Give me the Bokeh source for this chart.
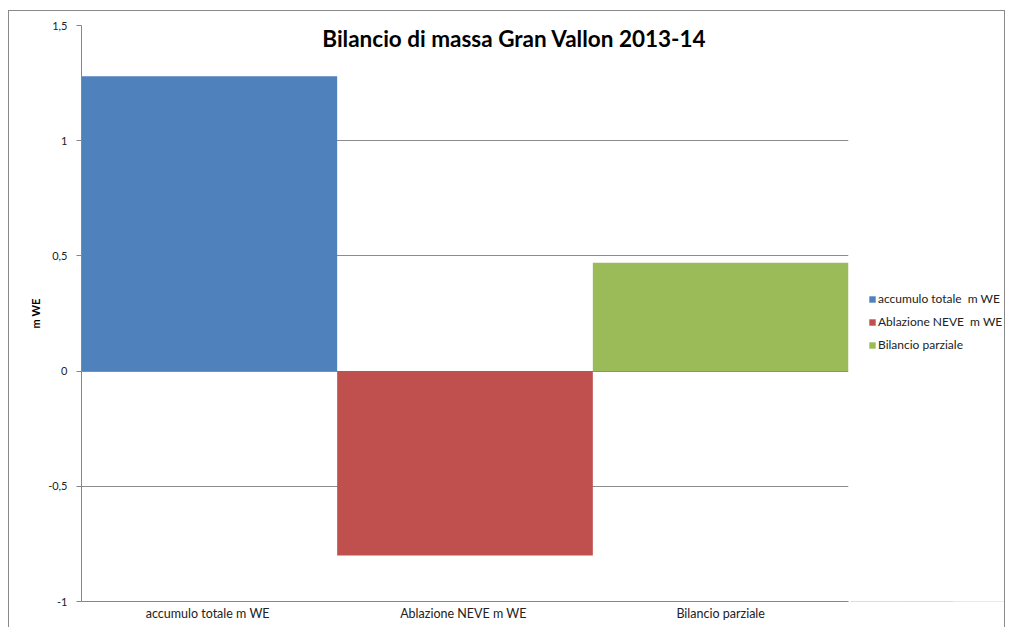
from bokeh.plotting import figure
from bokeh.models import ColumnDataSource, Label, FixedTicker, Legend, LegendItem, Range1d
from bokeh.layouts import row
from bokeh.embed import file_html
from bokeh.resources import INLINE

categories = ["accumulo totale  m WE", "Ablazione NEVE  m WE", "Bilancio parziale"]
values = [1.28, -0.80, 0.47]
colors = ["#4F81BD", "#C0504D", "#9BBB59"]
y_ticks = [-1, -0.5, 0, 0.5, 1, 1.5]
y_tick_labels = ["-1", "-0,5", "0", "0,5", "1", "1,5"]
title_text = "Bilancio di massa Gran Vallon 2013-14"
y_label = "m WE"

FONT = "Lato"

src = ColumnDataSource(dict(cat=categories, val=values, color=colors))

p = figure(x_range=categories, y_range=(-1, 1.5), width=841, height=616,
           output_backend="svg", toolbar_location=None,
           min_border_left=72, min_border_right=2, min_border_top=14, min_border_bottom=26)
p.outline_line_color = None
p.background_fill_color = "white"
p.border_fill_color = "white"

r = p.vbar(x="cat", top="val", bottom=0, width=1.0, color="color", line_color=None,
           source=src)

# axes
p.yaxis.ticker = FixedTicker(ticks=y_ticks)
p.yaxis.major_label_overrides = {t: l for t, l in zip(y_ticks, y_tick_labels)}
p.yaxis.axis_line_color = "#868686"
p.yaxis.major_tick_line_color = "#868686"
p.yaxis.major_tick_out = 5
p.yaxis.major_tick_in = 0
p.yaxis.minor_tick_line_color = None
p.yaxis.major_label_text_font = FONT
p.yaxis.major_label_text_font_size = "11px"
p.yaxis.major_label_text_color = "#222222"
p.yaxis.major_label_standoff = 9
p.yaxis.axis_label = y_label
p.yaxis.axis_label_text_font = FONT
p.yaxis.axis_label_text_font_size = "11px"
p.yaxis.axis_label_text_font_style = "bold"
p.yaxis.axis_label_text_color = "#000000"
p.yaxis.axis_label_standoff = 3

p.xaxis.axis_line_color = "#868686"
p.xaxis.major_tick_line_color = None
p.xaxis.minor_tick_line_color = None
p.xaxis.major_label_text_font = FONT
p.xaxis.major_label_text_font_size = "12.5px"
p.xaxis.major_label_text_color = "#222222"
p.xaxis.major_label_standoff = -2

p.xgrid.grid_line_color = None
p.ygrid.grid_line_color = "#8c8c8c"
p.ygrid.grid_line_width = 1

# title inside plot area
title = Label(x=1.693, y=1.4436, text=title_text, text_align="center",
              text_baseline="middle", text_font=FONT, text_font_size="22.5px",
              text_font_style="bold", text_color="#000000")
p.add_layout(title)

# legend panel: a separate narrow figure whose bars lie outside its view
q = figure(x_range=categories, y_range=Range1d(5, 6), width=154, height=616,
           output_backend="svg", toolbar_location=None,
           x_axis_location=None, y_axis_location=None,
           min_border_left=0, min_border_right=0, min_border_top=0, min_border_bottom=0)
q.grid.visible = False
q.outline_line_color = None
q.background_fill_color = "white"
q.border_fill_color = "white"
rq = q.vbar(x="cat", top="val", bottom=0, width=1.0, color="color", line_color=None,
            source=src)

legend = Legend(items=[LegendItem(label=dict(field="cat"), renderers=[rq])],
                location=(18, 249))
q.add_layout(legend)
legend.border_line_color = None
legend.background_fill_alpha = 0
legend.glyph_width = 8
legend.glyph_height = 8
legend.label_height = 12
legend.spacing = 8
legend.padding = 0
legend.margin = 0
legend.label_standoff = 2
legend.label_text_font = FONT
legend.label_text_font_size = "12px"
legend.label_text_color = "#222222"

layout = row(p, q)
layout.styles = {"border-left": "1px solid #8a8a8a", "border-top": "1px solid #8a8a8a",
                 "border-right": "1px solid #8a8a8a", "margin-left": "8px", "margin-top": "10px",
                 "background-color": "white"}

open("out.html", "w").write(file_html(layout, INLINE))
